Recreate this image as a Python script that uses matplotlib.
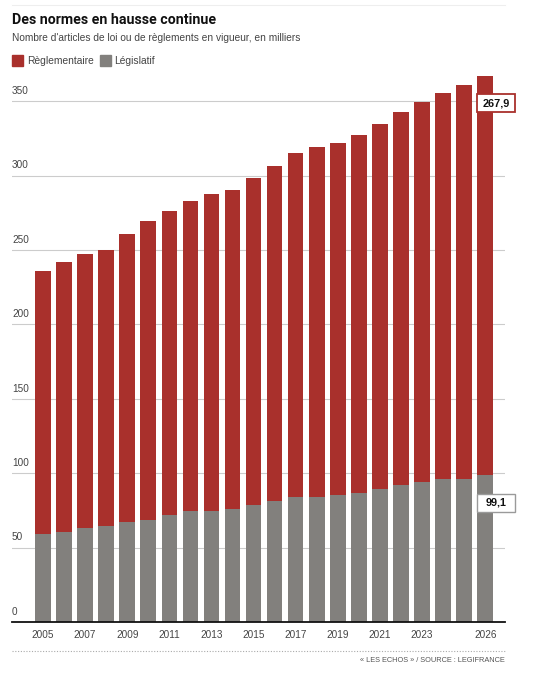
import matplotlib
matplotlib.use("Agg")
import matplotlib.pyplot as plt
from matplotlib.patches import Rectangle
from matplotlib.lines import Line2D

years = list(range(2005, 2027))
legislatif = [58.9, 60.4, 63.1, 64.5, 67.4, 68.7, 71.6, 74.3, 74.3, 75.9, 78.6,
              81.3, 84.0, 84.0, 85.3, 86.8, 89.5, 92.2, 93.8, 96.3, 96.3, 99.1]
total = [236.2, 241.8, 247.4, 250.1, 261.0, 269.5, 276.2, 283.2, 287.4, 290.1, 298.4,
         306.7, 315.0, 319.2, 321.9, 327.5, 334.5, 342.7, 349.7, 355.3, 360.9, 367.0]
reglementaire = [round(t - l, 1) for t, l in zip(total, legislatif)]
reglementaire[-1] = 267.9
xtick_labels = ["2005", "2007", "2009", "2011", "2013", "2015", "2017", "2019",
                "2021", "2023", "2026"]
xtick_years = [2005, 2007, 2009, 2011, 2013, 2015, 2017, 2019, 2021, 2023, 2026]
yticks = [0, 50, 100, 150, 200, 250, 300, 350]

RED = "#a9302c"
GREY = "#82807d"
FONT = "Liberation Sans"
TFONT = "Roboto"

W, H = 534, 680
fig = plt.figure(figsize=(W / 100, H / 100), dpi=100)
fig.patch.set_facecolor("white")

def fx(px):
    return px / W

def fy(py):
    return 1 - py / H

ax = fig.add_axes([fx(12), fy(622), fx(505) - fx(12), fy(70) - fy(622)])
x = list(range(len(years)))
ax.bar(x, legislatif, width=0.74, color=GREY, zorder=2)
ax.bar(x, reglementaire, bottom=legislatif, width=0.74, color=RED, zorder=2)
ax.set_xlim(-1.47, 21.94)
ax.set_ylim(0, 371)

for s in ["top", "right", "left"]:
    ax.spines[s].set_visible(False)
ax.spines["bottom"].set_color("#111111")
ax.spines["bottom"].set_linewidth(1.3)
ax.spines["bottom"].set_zorder(3)

for v in yticks[1:]:
    ax.axhline(v, color="#cccccc", lw=0.8, zorder=1)
ax.set_yticks([])
for v in yticks:
    ax.text(0, v + 3.5, str(v), transform=ax.get_yaxis_transform(),
            ha="left", va="bottom", fontsize=7.2, color="#444444", family=FONT)

ax.set_xticks([years.index(y) for y in xtick_years])
ax.set_xticklabels(xtick_labels, fontsize=7.2, color="#444444", family=FONT)
ax.tick_params(axis="x", length=0, pad=6)

# value labels with fixed-size boxes
last = len(years) - 1
bx = last + 0.52
bw, bh = 1.80, 12.1
for yc, txt, ec, lw in [(348.5, "267,9", RED, 1.3), (80, "99,1", "#9a9a9a", 1.0)]:
    ax.add_patch(Rectangle((bx - bw / 2, yc - bh / 2), bw, bh, fc="white", ec=ec,
                           lw=lw, zorder=5, clip_on=False))
    ax.text(bx, yc, txt, ha="center", va="center", fontsize=7.8, fontweight="bold",
            family=FONT, color="#111111", zorder=6)

# header
fig.text(fx(12), fy(20), "Des normes en hausse continue", fontsize=10.2,
         fontweight="bold", family=TFONT, color="#111111", va="center", ha="left")
fig.text(fx(12), fy(38), "Nombre d'articles de loi ou de règlements en vigueur, en milliers",
         fontsize=7.3, family=FONT, color="#444444", va="center", ha="left")

# legend
fig.patches.append(Rectangle((fx(12), fy(66)), fx(11), fy(55) - fy(66),
                             transform=fig.transFigure, color=RED))
fig.text(fx(27), fy(61), "Règlementaire", fontsize=7.4, family=FONT,
         color="#444444", va="center", ha="left")
fig.patches.append(Rectangle((fx(100), fy(66)), fx(11), fy(55) - fy(66),
                             transform=fig.transFigure, color=GREY))
fig.text(fx(114), fy(61), "Législatif", fontsize=7.4, family=FONT,
         color="#444444", va="center", ha="left")

# top faint rule
fig.lines.append(Line2D([fx(12), fx(505)], [fy(5), fy(5)], transform=fig.transFigure,
                        color="#eeeeee", lw=0.8))
# bottom dotted rule
fig.lines.append(Line2D([fx(12), fx(505)], [fy(651), fy(651)], transform=fig.transFigure,
                        color="#aaaaaa", lw=0.8, linestyle=(0, (1, 1.5))))
fig.text(fx(505), fy(660), "« LES ECHOS » / SOURCE : LEGIFRANCE", fontsize=5.3,
         family=FONT, color="#555555", va="center", ha="right")

fig.savefig("out.png", dpi=100, facecolor="white")
